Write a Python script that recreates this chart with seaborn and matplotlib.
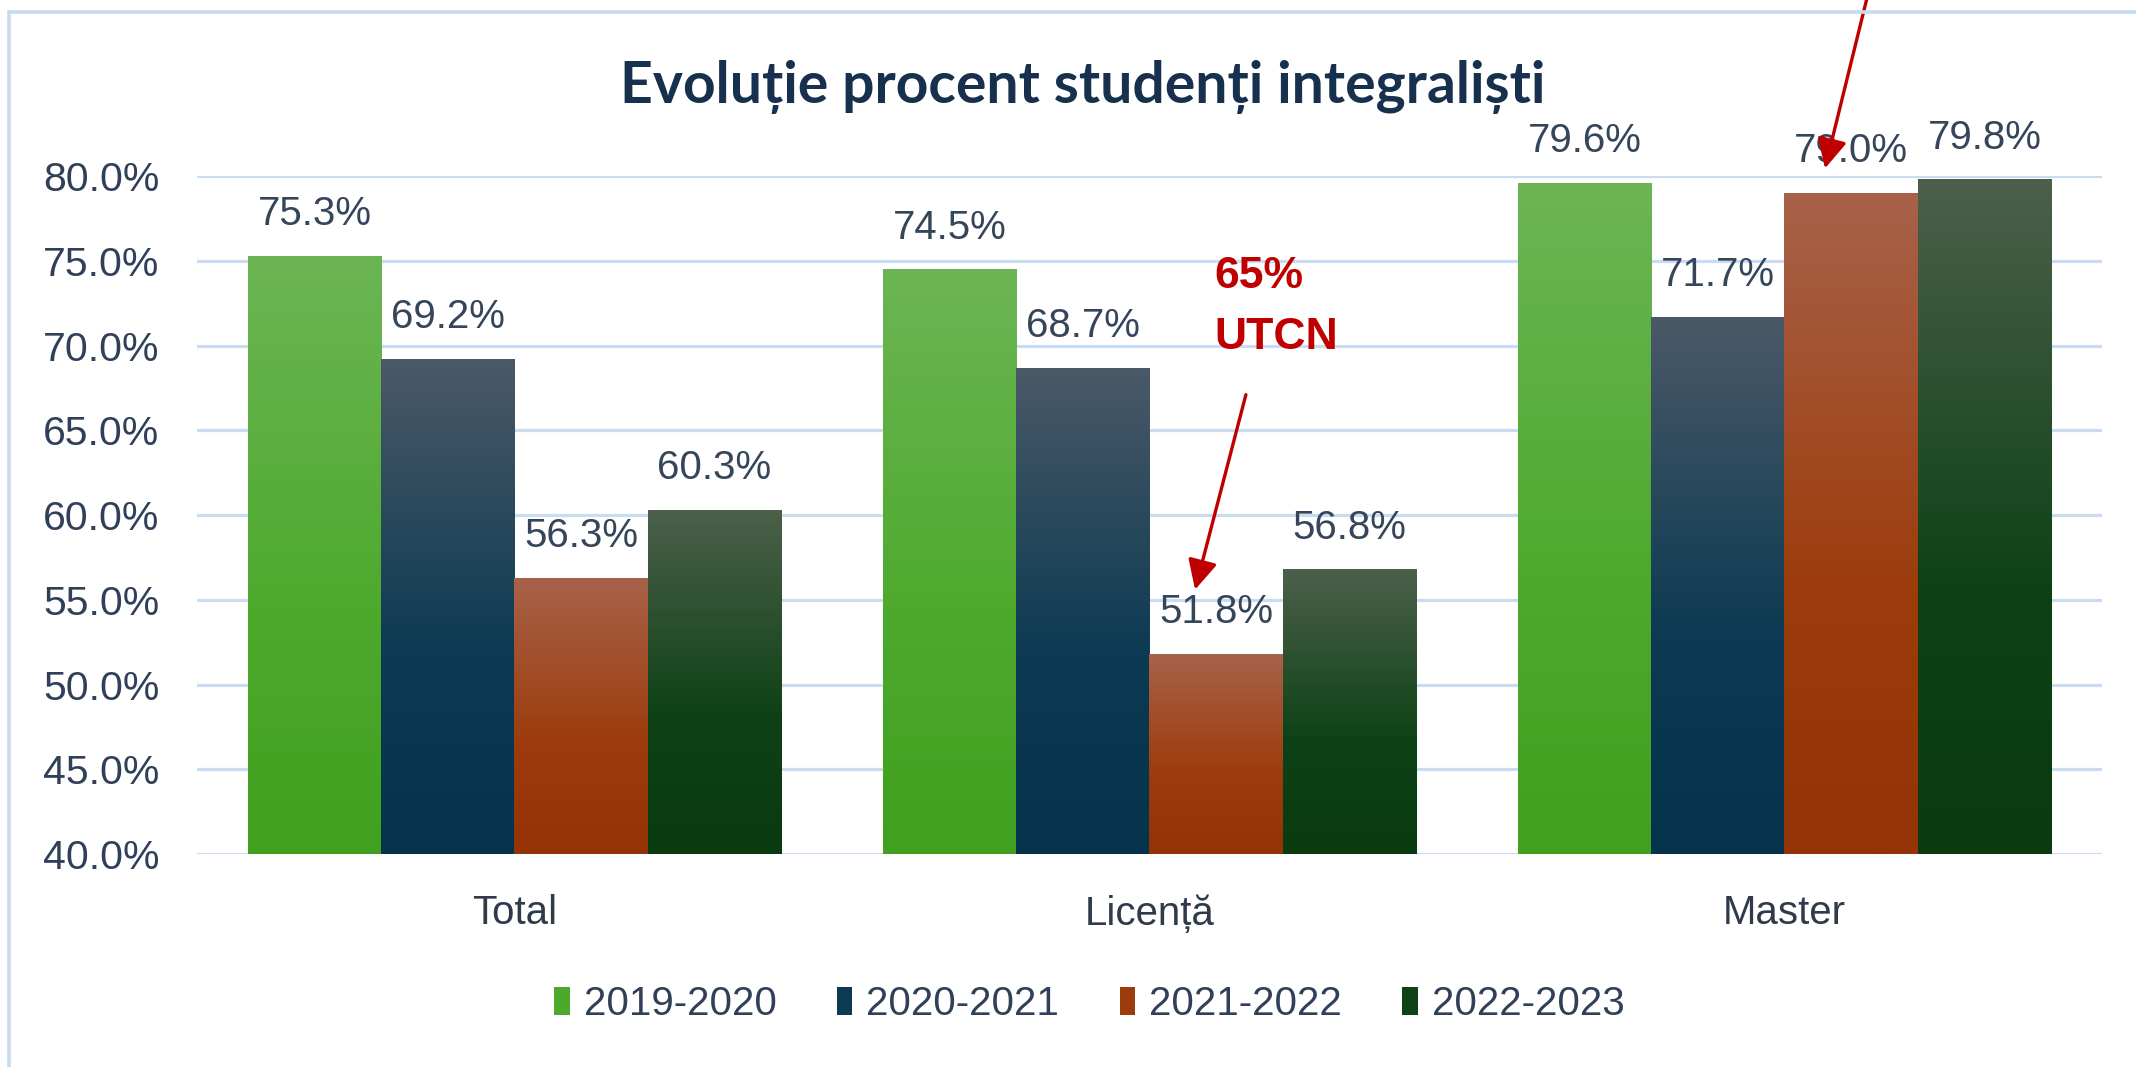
import numpy as np
import pandas as pd
import seaborn as sns
import matplotlib.pyplot as plt
from matplotlib.colors import LinearSegmentedColormap
from matplotlib.patches import Rectangle, Patch

# ---------------- data ----------------
categories = ["Total", "Licență", "Master"]
years = ["2019-2020", "2020-2021", "2021-2022", "2022-2023"]
v_2019_2020 = [75.3, 74.5, 79.6]
v_2020_2021 = [69.2, 68.7, 71.7]
v_2021_2022 = [56.3, 51.8, 79.0]
v_2022_2023 = [60.3, 56.8, 79.8]
y_ticks = [40, 45, 50, 55, 60, 65, 70, 75, 80]
title = "Evoluție procent studenți integraliști"

series = [v_2019_2020, v_2020_2021, v_2021_2022, v_2022_2023]
rows = []
for yr, vals in zip(years, series):
    for c, v in zip(categories, vals):
        rows.append({"cat": c, "year": yr, "val": v})
df = pd.DataFrame(rows)

# gradient colours (top, mid, bottom)
grad = [
    ("#6cb554", "#4da92c", "#41a020"),
    ("#4b5968", "#0b3a52", "#06334c"),
    ("#a8624a", "#9c3c0c", "#943305"),
    ("#4c604a", "#0e4216", "#0a3a10"),
]
base = [g[1] for g in grad]

sns.set_theme(style="white")
plt.rcParams['font.family'] = ['Liberation Sans', 'DejaVu Sans']

fig = plt.figure(figsize=(21.36, 10.67), dpi=100)
ax = fig.add_axes([0.0922, 0.1996, 0.8918, 0.6354])

sns.barplot(data=df, x="cat", y="val", hue="year", order=categories,
            hue_order=years, palette=base, width=0.84, gap=0,
            saturation=1, legend=False, ax=ax, zorder=3, linewidth=0)

ax.set_ylim(40, 80)
ax.set_xlim(-0.5, 2.5)
ax.set_yticks(y_ticks)
ax.set_yticklabels([f"{t:.1f}%" for t in y_ticks])
ax.grid(axis="y", color="#c9dcf1", lw=2.3, zorder=0)
ax.grid(axis="x", visible=False)
for s in ax.spines.values():
    s.set_visible(False)
ax.tick_params(axis="y", length=0, pad=27, labelsize=29.5, labelcolor="#2f4058")
ax.tick_params(axis="x", length=0, pad=29, labelsize=29, labelcolor="#2f3a4a")
ax.set_xlabel("")
ax.set_ylabel("")

# gradient overlay & labels
for i, cont in enumerate(ax.containers):
    cmap = LinearSegmentedColormap.from_list(
        f"g{i}", [(0, grad[i][2]), (0.4, grad[i][1]), (1, grad[i][0])])
    for bar, v in zip(cont, series[i]):
        x0 = bar.get_x()
        w = bar.get_width()
        h = bar.get_height()
        img = np.linspace(0, 1, 256).reshape(-1, 1)
        im = ax.imshow(img, cmap=cmap, origin="lower", aspect="auto",
                       extent=[x0, x0 + w, 40, h], zorder=4)
        im.set_clip_path(bar)
        ax.annotate(f"{v:.1f}%", xy=(x0 + w / 2, v), xytext=(0, 30),
                    textcoords="offset points", ha="center", va="center",
                    fontsize=29, color="#36465a", annotation_clip=False)
ax.set_xlim(-0.5, 2.5)
ax.set_ylim(40, 80)

# title
fig.text(0.507, 0.918, title, ha="center", va="center", fontsize=41,
         fontweight="bold", color="#17304d", family=["Lato", "DejaVu Sans"])

# red annotations
ax.text(1.102, 74.1, "65%", ha="left", va="center", fontsize=32,
        fontweight="bold", color="#c00000")
ax.text(1.102, 70.5, "UTCN", ha="left", va="center", fontsize=32,
        fontweight="bold", color="#c00000")
ax.annotate("", xy=(1.072, 55.6), xytext=(1.152, 67.1),
            arrowprops=dict(arrowstyle="-|>,head_length=0.5,head_width=0.25",
                            color="#c00000", lw=2.4,
                            mutation_scale=36, shrinkA=0, shrinkB=0),
            annotation_clip=False, zorder=6)
ax.annotate("", xy=(2.064, 80.45), xytext=(2.14, 92),
            arrowprops=dict(arrowstyle="-|>,head_length=0.5,head_width=0.25",
                            color="#c00000", lw=2.4,
                            mutation_scale=36, shrinkA=0, shrinkB=0),
            annotation_clip=False, zorder=6)

# legend
handles = [Patch(facecolor=grad[i][1], edgecolor="none", label=years[i])
           for i in range(4)]
fig.legend(handles=handles, loc="center", bbox_to_anchor=(0.51, 0.059),
           ncol=4, frameon=False, fontsize=29, handlelength=0.38,
           handleheight=0.67, handletextpad=0.35, columnspacing=1.5,
           labelcolor="#2f4058")

# chart frame
fig.patches.append(Rectangle((0.0042, -0.2), 1.2, 0.2 + 0.9885,
                             transform=fig.transFigure, fill=False,
                             edgecolor="#c6dbf0", lw=2.6))

fig.savefig("out.png", dpi=100)
